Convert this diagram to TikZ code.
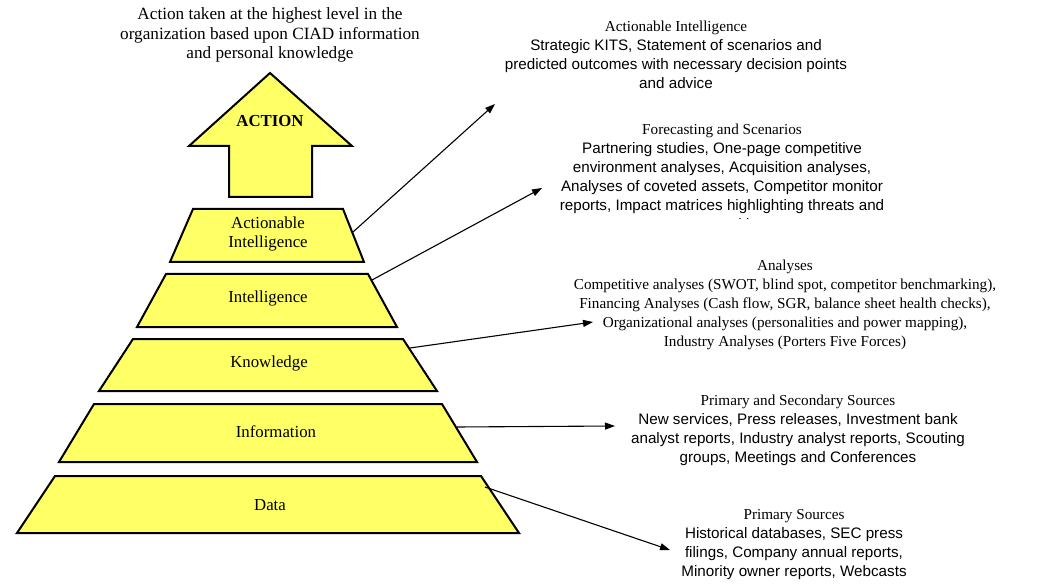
\documentclass[tikz,border=0pt]{standalone}
\usepackage{fontspec}
\setmainfont{Liberation Serif}
\setsansfont{Liberation Sans}
\usetikzlibrary{arrows.meta}
\definecolor{pyryellow}{HTML}{FFFF66}
\tikzset{
  level/.style={draw,line width=2bp,fill=pyryellow,line join=miter},
  tier/.style={align=center,inner sep=0pt,font=\fontsize{16.8bp}{19.2bp}\selectfont},
  link/.style={-{Triangle[length=10bp,width=7bp]},line width=1.1bp},
  note/.style={align=center,inner sep=0pt,font=\fontsize{15.2bp}{19bp}\selectfont},
}
\begin{document}
\begin{tikzpicture}[x=1bp,y=-1bp]
  \useasboundingbox (0,0) rectangle (1055,585);
  % action arrow on top
  \node[note,font=\fontsize{17.2bp}{19.8bp}\selectfont] (goal) at (270,35)
    {Action taken at the highest level in the\\organization based upon CIAD information\\and personal knowledge};
  \draw[level] (270,73) -- (352,146) -- (312,146) -- (312,197)
    -- (229,197) -- (229,146) -- (189,146) -- cycle;
  \node[tier,font=\fontsize{16.8bp}{19bp}\selectfont\bfseries] (act) at (270,121) {ACTION};
  % pyramid levels
  \draw[level] (193,209) -- (343,209) -- (364,262) -- (170,262) -- cycle;
  \draw[level] (166,274) -- (368,274) -- (397,327) -- (137,327) -- cycle;
  \draw[level] (133,339) -- (403,339) -- (437,391) -- (99,391) -- cycle;
  \draw[level] (94,404) -- (442,404) -- (477,462) -- (59,462) -- cycle;
  \draw[level] (55,476) -- (481,476) -- (519,533) -- (17,533) -- cycle;
  \node[tier] (ai) at (268,234) {Actionable\\Intelligence};
  \node[tier] (intel) at (268,298) {Intelligence};
  \node[tier] (know) at (269,363) {Knowledge};
  \node[tier] (info) at (276,432) {Information};
  \node[tier] (data) at (270,505) {Data};
  % outputs of each level
  \node[note] (n1) at (676,55) {\rmfamily Actionable Intelligence\\\sffamily Strategic KITS, Statement of scenarios and\\\sffamily predicted outcomes with necessary decision points\\\sffamily and advice};
  \begin{scope}
    \clip (500,100) rectangle (1055,219);
    \node[note] (n2) at (722,178) {\rmfamily Forecasting and Scenarios\\\sffamily Partnering studies, One-page competitive\\\sffamily environment analyses, Acquisition analyses,\\\sffamily Analyses of coveted assets, Competitor monitor\\\sffamily reports, Impact matrices highlighting threats and\\\sffamily opportunities};
  \end{scope}
  \node[note] (n3) at (785,305) {Analyses\\Competitive analyses (SWOT, blind spot, competitor benchmarking),\\Financing Analyses (Cash flow, SGR, balance sheet health checks),\\Organizational analyses (personalities and power mapping),\\Industry Analyses (Porters Five Forces)};
  \node[note] (n4) at (798,430) {\rmfamily Primary and Secondary Sources\\\sffamily New services, Press releases, Investment bank\\\sffamily analyst reports, Industry analyst reports, Scouting\\\sffamily groups, Meetings and Conferences};
  \node[note] (n5) at (794,545) {\rmfamily Primary Sources\\\sffamily Historical databases, SEC press\\\sffamily filings, Company annual reports,\\\sffamily Minority owner reports, Webcasts};
  % arrow starts and ends
  \coordinate (s1) at (353,232);
  \coordinate (s2) at (372,280);
  \coordinate (s3) at (410,348);
  \coordinate (s4) at (457,427);
  \coordinate (s5) at (485,487);
  \coordinate (t1) at (495,104);
  \coordinate (t2) at (542,188);
  \coordinate (t3) at (593,322);
  \coordinate (t4) at (615,426);
  \coordinate (t5) at (670,550);
  \draw[link] (s1) -- (t1);
  \draw[link] (s2) -- (t2);
  \draw[link] (s3) -- (t3);
  \draw[link] (s4) -- (t4);
  \draw[link] (s5) -- (t5);
\end{tikzpicture}
\end{document}
